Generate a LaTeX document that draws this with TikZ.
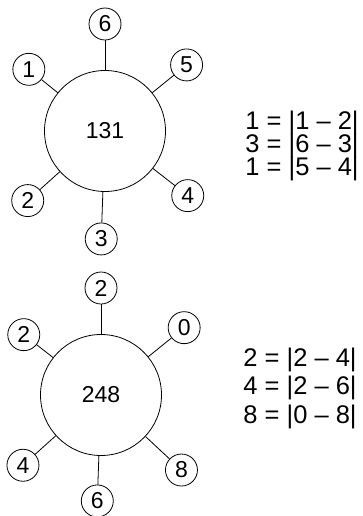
\documentclass[tikz,border=0pt]{standalone}
\usepackage{fontspec}
\setmainfont{Liberation Sans}

\tikzset{
    hub/.style={draw, circle, minimum size=121pt, inner sep=0pt, font=\fontsize{23}{23}\selectfont},
    spoke/.style={draw, circle, minimum size=32pt, inner sep=0pt, font=\fontsize{23}{23}\selectfont},
    eqline/.style={anchor=base east, inner sep=0pt, font=\fontsize{25.5}{25.5}\selectfont}
}

\begin{document}
\begin{tikzpicture}[x=1pt, y=-1pt, line width=0.8pt]
    \useasboundingbox (0,0) rectangle (363,516);

    % First wheel
    \node[hub] (w1) at (105,131) {131};
    \foreach \ang/\dist/\val [count=\i] in {-90/107/6, -141/98/1, -39/105/5, 138/104/2, 92/108/3, 38/105/4} {
        % Small circle round the hub
        \node[spoke] (w1-\i) at ([shift={(\ang:\dist)}]w1.center) {\val};
        % Spoke from hub to small circle
        \draw (w1) -- (w1-\i);
    }

    % Differences for the first wheel
    \foreach \y/\txt [count=\i] in {129.5/{1 = |1 – 2|}, 152.5/{3 = |6 – 3|}, 175.5/{1 = |5 – 4|}} {
        \node[eqline] (e1-\i) at (359,\y) {\txt};
    }

    % Second wheel
    \node[hub] (w2) at (101,395) {248};
    \foreach \ang/\dist/\val [count=\i] in {-90/107/2, -142/98/2, -39/107/0, 138/105/4, 92/106/6, 43/110/8} {
        % Small circle round the hub
        \node[spoke] (w2-\i) at ([shift={(\ang:\dist)}]w2.center) {\val};
        % Spoke from hub to small circle
        \draw (w2) -- (w2-\i);
    }

    % Differences for the second wheel
    \foreach \y/\txt [count=\i] in {366/{2 = |2 – 4|}, 394.5/{4 = |2 – 6|}, 423/{8 = |0 – 8|}} {
        \node[eqline] (e2-\i) at (357,\y) {\txt};
    }
\end{tikzpicture}
\end{document}
